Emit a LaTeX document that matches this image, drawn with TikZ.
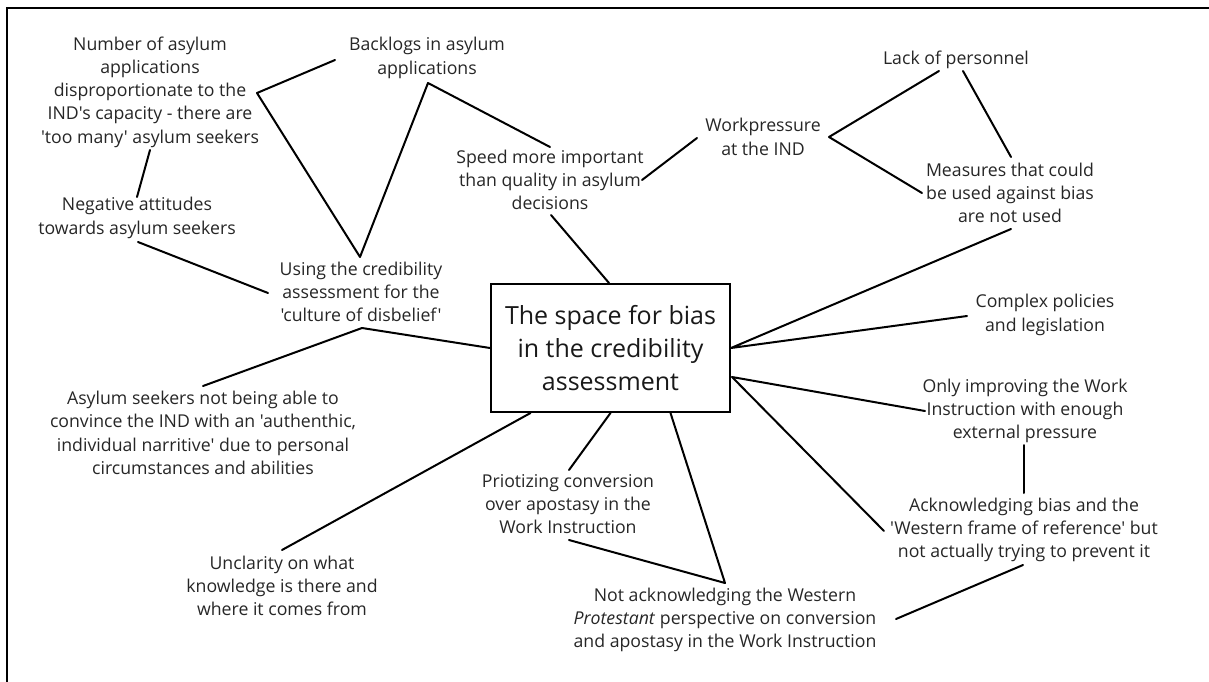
\documentclass[tikz,border=0pt]{standalone}
\usepackage{fontspec}
\setmainfont{Open Sans}[Ligatures=TeXOff]
\begin{document}
\begin{tikzpicture}[x=1pt,y=-1pt,
  lbl/.style={inner sep=0pt, align=center, text=black!85, font=\fontsize{17.7}{23.3}\selectfont},
  link/.style={line width=2pt, line cap=round, line join=round},
  corebox/.style={draw, line width=2pt, minimum width=239pt, minimum height=128pt, inner sep=0pt, align=center, text=black!90, font=\fontsize{25}{33}\selectfont}]
\useasboundingbox (0,0) rectangle (1209,682);
\draw[line width=2pt] (7,695) -- (7,8) -- (1220,8);

\node[corebox] (core) at (610.5,348) {The space for bias\\in the credibility\\assessment};
\node[lbl] (num) at (150,92) {Number of asylum\\applications\\disproportionate to the\\IND's capacity - there are\\'too many' asylum seekers};
\node[lbl] (back) at (427,58) {Backlogs in asylum\\applications};
\node[lbl] (neg) at (137,218) {Negative attitudes\\towards asylum seekers};
\node[lbl] (using) at (361,292) {Using the credibility\\assessment for the\\'culture of disbelief'};
\node[lbl] (speed) at (550,180) {Speed more important\\than quality in asylum\\decisions};
\node[lbl] (work) at (763,137) {Workpressure\\at the IND};
\node[lbl] (lack) at (956,60) {Lack of personnel};
\node[lbl] (meas) at (1010,193) {Measures that could\\be used against bias\\are not used};
\node[lbl] (cplx) at (1045,315) {Complex policies\\and legislation};
\node[lbl] (only) at (1025,411) {Only improving the Work\\Instruction with enough\\external pressure};
\node[lbl] (ack) at (1024,530) {Acknowledging bias and the\\'Western frame of reference' but\\not actually trying to prevent it};
\node[lbl] (notack) at (725,620) {Not acknowledging the Western\\\textit{Protestant} perspective on conversion\\and apostasy in the Work Instruction};
\node[lbl] (prio) at (568,504) {Priotizing conversion\\over apostasy in the\\Work Instruction};
\node[lbl] (asyl) at (203,433) {Asylum seekers not being able to\\convince the IND with an 'authenthic,\\individual narritive' due to personal\\circumstances and abilities};
\node[lbl] (uncl) at (282,586) {Unclarity on what\\knowledge is there and\\where it comes from};

\draw[link] ([shift={(-92,2)}]back.center) -- ([shift={(107,1)}]num.center) -- ([shift={(-1,-35)}]using.center) -- ([shift={(1,25)}]back.center) -- ([shift={(0,-33)}]speed.center);
\draw[link] ([shift={(0,58)}]num.center) -- ([shift={(0,-21)}]neg.center);
\draw[link] ([shift={(1,24)}]neg.center) -- ([shift={(-93,1)}]using.center);
\draw[link] ([shift={(92,0)}]speed.center) -- ([shift={(-66,1)}]work.center);
\draw[link] ([shift={(1,35)}]speed.center) -- ([shift={(-1.5,-65)}]core.center);
\draw[link] ([shift={(-17,11)}]lack.center) -- ([shift={(66,0)}]work.center) -- ([shift={(-88,0)}]meas.center);
\draw[link] ([shift={(7,11)}]lack.center) -- ([shift={(1,-36)}]meas.center);
\draw[link] ([shift={(1,36)}]meas.center) -- (core.east) -- ([shift={(-78,1)}]cplx.center);
\draw[link] ([shift={(-100,0)}]only.center) -- ([shift={(121.5,29)}]core.center) -- ([shift={(-140,1)}]ack.center);
\draw[link] ([shift={(-1,34)}]only.center) -- ([shift={(0,-37)}]ack.center);
\draw[link] ([shift={(-1,35)}]ack.center) -- ([shift={(171,-1)}]notack.center);
\draw[link] ([shift={(60,0)}]core.south) -- ([shift={(0,-37)}]notack.center) -- ([shift={(1,36)}]prio.center);
\draw[link] (core.south) -- ([shift={(1,-34)}]prio.center);
\draw[link] ([shift={(-80,0)}]core.south) -- ([shift={(0,-36)}]uncl.center);
\draw[link] (core.west) -- ([shift={(1,36)}]using.center) -- ([shift={(0,-47)}]asyl.center);
\end{tikzpicture}
\end{document}
